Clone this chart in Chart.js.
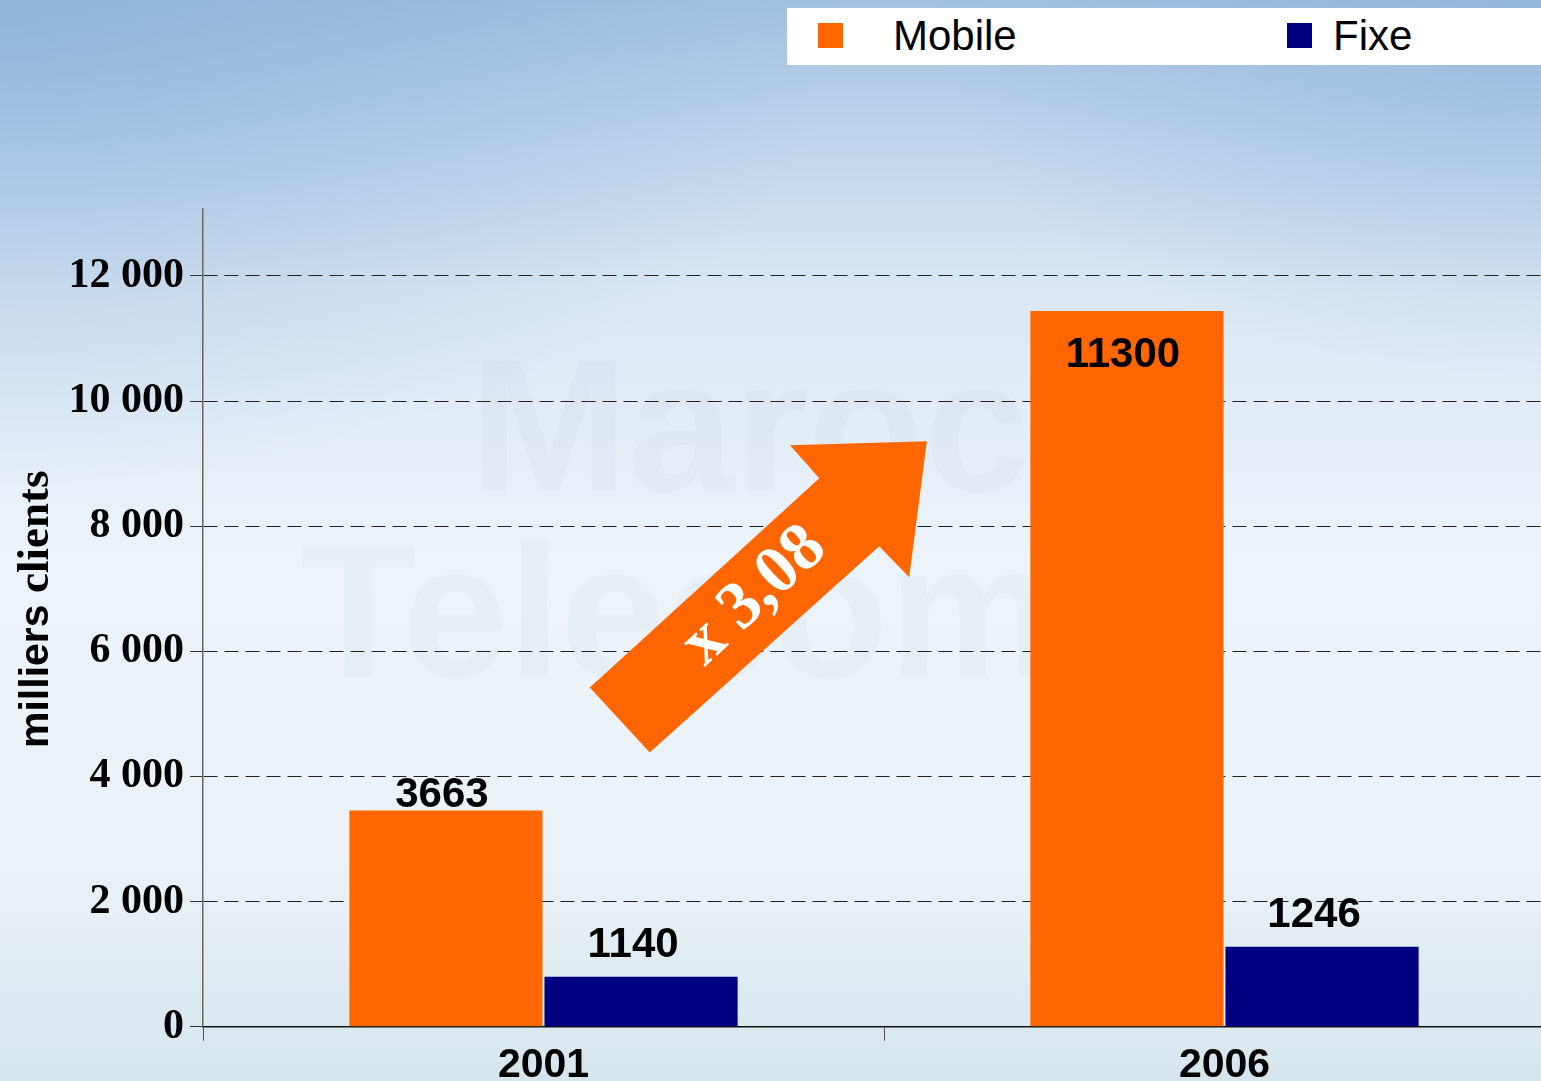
<!DOCTYPE html>
<html>
<head>
<meta charset="utf-8">
<script src="https://cdn.jsdelivr.net/npm/chart.js@4.4.1/dist/chart.umd.min.js"></script>
<style>
  html, body {
    margin: 0;
    padding: 0;
    width: 1541px;
    height: 1081px;
    overflow: hidden;
  }
  body {
    position: relative;
    background:
      radial-gradient(ellipse 55% 45% at 0% 0%, rgba(128,168,214,0.55), rgba(128,168,214,0) 100%),
      radial-gradient(ellipse 40% 35% at 100% 0%, rgba(128,168,214,0.45), rgba(128,168,214,0) 100%),
      linear-gradient(to bottom, #a4c1df 0%, #c1d6ec 150px, #dae7f3 290px, #ecf3fa 560px, #eaf2f7 860px, #d6e5ed 1081px);
  }
  .wm {
    position: absolute;
    font: bold 190px "Liberation Sans", Arial, sans-serif;
    line-height: 1;
    color: rgba(110, 135, 160, 0.045);
    white-space: pre;
  }
  #wrap {
    position: absolute;
    left: 0;
    top: 0;
  }
  #legend {
    position: absolute;
    left: 787px;
    top: 8px;
    width: 800px;
    height: 57px;
    background: #fff;
    font: 42px "Liberation Sans", Arial, sans-serif;
    color: #000;
  }
  #legend .box {
    position: absolute;
    top: 15px;
    width: 25px;
    height: 25px;
  }
  #legend .txt {
    position: absolute;
    top: 0;
    line-height: 55px;
    white-space: nowrap;
  }
</style>
</head>
<body>
<div class="wm" style="left:470px; top:330px;">Maroc</div>
<div class="wm" style="left:300px; top:515px;">Telecom</div>
<div id="wrap"><canvas id="chart" width="1565" height="1090"></canvas></div>
<div id="legend"></div>

<script>
  'use strict';

  // categories and series (bar heights, labels as printed)
  var years = ['2001', '2006'];
  var mobileValues = [3456, 11440];
  var fixeValues = [800, 1280];
  var mobileLabels = ['3663', '11300'];
  var fixeLabels = ['1140', '1246'];
  var yTickValues = [0, 2000, 4000, 6000, 8000, 10000, 12000];
  var growthText = 'x 3,08';
  var yTitleParts = ['milliers ', 'clients'];

  var ORANGE = '#FF6600';
  var NAVY = '#000080';
  var SANS = '"Liberation Sans", Arial, sans-serif';
  var SERIF = '"Liberation Serif", "Times New Roman", serif';

  // arrow outline as [category index, value] pairs
  var arrowShape = [
    [0.068, 5424], [0.156, 4384], [0.493, 7680], [0.537, 7184],
    [0.563, 9360], [0.362, 9296], [0.405, 8768]
  ];
  var arrowTextAt = [0.31, 6880];

  function thousands(v) {
    return String(v).replace(/\B(?=(\d{3})+(?!\d))/g, ' ');
  }

  // rotated axis title, first word in sans, second in serif
  var yTitlePlugin = {
    id: 'yTitle',
    afterDraw: function(chart) {
      var ctx = chart.ctx;
      var fonts = ['bold 41px ' + SANS, 'bold 45px ' + SERIF];
      ctx.save();
      ctx.translate(48, 748);
      ctx.rotate(-Math.PI / 2);
      ctx.fillStyle = '#000';
      ctx.textAlign = 'left';
      ctx.textBaseline = 'alphabetic';
      var x = 0;
      yTitleParts.forEach(function(part, i) {
        ctx.font = fonts[i];
        ctx.fillText(part, x, 0);
        x += ctx.measureText(part).width;
      });
      ctx.restore();
    }
  };

  var arrowPlugin = {
    id: 'growthArrow',
    afterDatasetsDraw: function(chart) {
      var ctx = chart.ctx;
      var xs = chart.scales.x;
      var ys = chart.scales.y;
      ctx.save();
      ctx.beginPath();
      arrowShape.forEach(function(p, i) {
        var px = xs.getPixelForValue(p[0]);
        var py = ys.getPixelForValue(p[1]);
        if (i === 0) ctx.moveTo(px, py); else ctx.lineTo(px, py);
      });
      ctx.closePath();
      ctx.fillStyle = ORANGE;
      ctx.fill();

      ctx.translate(xs.getPixelForValue(arrowTextAt[0]), ys.getPixelForValue(arrowTextAt[1]));
      ctx.rotate(-43 * Math.PI / 180);
      ctx.fillStyle = '#fff';
      ctx.font = 'bold 68px ' + SERIF;
      ctx.textAlign = 'center';
      ctx.textBaseline = 'middle';
      ctx.fillText(growthText, 0, 0);
      ctx.restore();
    }
  };

  var valueLabelPlugin = {
    id: 'valueLabels',
    afterDatasetsDraw: function(chart) {
      var ctx = chart.ctx;
      var yMax = chart.scales.y.max;
      ctx.save();
      ctx.font = 'bold 42px ' + SANS;
      ctx.fillStyle = '#000';
      ctx.textAlign = 'center';
      ctx.textBaseline = 'alphabetic';
      chart.data.datasets.forEach(function(ds, di) {
        var meta = chart.getDatasetMeta(di);
        meta.data.forEach(function(bar, i) {
          var y;
          if (ds.data[i] > yMax * 0.8) {
            y = bar.y + 56;  // tall bar: label sits inside the top
          } else {
            y = bar.y - ds.labelGap;
          }
          ctx.fillText(ds.valueLabels[i], bar.x - ds.labelShift, y);
        });
      });
      ctx.restore();
    }
  };

  var ctx = document.getElementById('chart').getContext('2d');

  var chart = new Chart(ctx, {
    type: 'bar',
    data: {
      labels: years,
      datasets: [{
        label: 'Mobile',
        data: mobileValues,
        valueLabels: mobileLabels,
        labelGap: 4,
        labelShift: 4,
        backgroundColor: ORANGE,
        borderWidth: 0
      }, {
        label: 'Fixe',
        data: fixeValues,
        valueLabels: fixeLabels,
        labelGap: 20,
        labelShift: 8,
        backgroundColor: NAVY,
        borderWidth: 0
      }]
    },
    options: {
      responsive: false,
      animation: false,
      devicePixelRatio: 1,
      layout: {
        padding: { top: 209, left: 0, right: 0, bottom: 0 }
      },
      datasets: {
        bar: {
          categoryPercentage: 0.573,
          barPercentage: 0.99
        }
      },
      plugins: {
        legend: { display: false },
        tooltip: { enabled: false }
      },
      scales: {
        x: {
          offset: true,
          grid: {
            display: true,
            offset: true,
            drawOnChartArea: false,
            drawTicks: true,
            tickLength: 14,
            tickColor: '#555',
            tickWidth: 1
          },
          border: { display: true, color: '#111', width: 1.5 },
          ticks: {
            color: '#000',
            padding: 0,
            font: { family: SANS, size: 41, weight: 'bold' }
          }
        },
        y: {
          min: 0,
          max: 13070,
          afterBuildTicks: function(axis) {
            axis.ticks = yTickValues.map(function(v) { return { value: v }; });
          },
          afterFit: function(axis) {
            axis.width = 203;
          },
          grid: {
            color: '#222',
            lineWidth: 1,
            drawTicks: true,
            tickLength: 13,
            tickColor: '#333',
            tickWidth: 1
          },
          border: { display: true, color: '#666', width: 1.5, dash: [14, 7] },
          ticks: {
            color: '#000',
            padding: 6,
            callback: function(v) { return thousands(v); },
            font: { family: SERIF, size: 42, weight: 'bold' }
          },
          title: { display: false }
        }
      }
    },
    plugins: [arrowPlugin, valueLabelPlugin, yTitlePlugin]
  });

  // legend built from the datasets
  var legendPos = [{ box: 31, txt: 106 }, { box: 500, txt: 546 }];
  var legend = document.getElementById('legend');
  chart.data.datasets.forEach(function(ds, i) {
    var box = document.createElement('span');
    box.className = 'box';
    box.style.left = legendPos[i].box + 'px';
    box.style.background = ds.backgroundColor;
    var txt = document.createElement('span');
    txt.className = 'txt';
    txt.style.left = legendPos[i].txt + 'px';
    txt.textContent = ds.label;
    legend.appendChild(box);
    legend.appendChild(txt);
  });
</script>
</body>
</html>
